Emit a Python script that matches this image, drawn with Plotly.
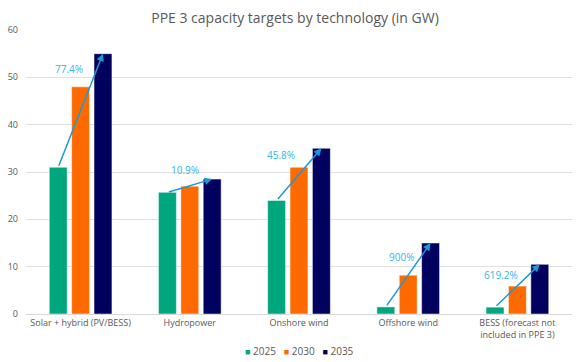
import plotly.graph_objects as go

categories = ["Solar + hybrid (PV/BESS)", "Hydropower", "Onshore wind", "Offshore wind",
              "BESS (forecast not<br>included in PPE 3)"]
years = ["2025", "2030", "2035"]
v2025 = [31, 25.7, 24, 1.5, 1.45]
v2030 = [48, 27, 31, 8.2, 5.9]
v2035 = [55, 28.5, 35, 15, 10.5]
y_ticks = [0, 10, 20, 30, 40, 50, 60]
growth_labels = ["77.4%", "10.9%", "45.8%", "900%", "619.2%"]
label_y = [51.8, 30.4, 33.6, 12, 8.2]
label_dx = [-0.11, -0.04, -0.165, -0.06, -0.15]

colors = ["#00A67E", "#FF6A00", "#00005F"]
series = [v2025, v2030, v2035]

fig = go.Figure()
for name, vals, c in zip(years, series, colors):
    fig.add_trace(go.Bar(x=categories, y=vals, name=name, marker_color=c,
                         marker_line=dict(color="rgba(255,255,255,0.6)", width=0.8)))

slot = 0.615 / 3
for i in range(len(categories)):
    fig.add_annotation(x=i + slot, y=v2035[i], ax=i - slot, ay=v2025[i],
                       xref="x", yref="y", axref="x", ayref="y",
                       showarrow=True, arrowhead=2, arrowsize=1, arrowwidth=1.5,
                       arrowcolor="#1A9AD6", text="")
    fig.add_annotation(x=i + label_dx[i], y=label_y[i], xref="x", yref="y",
                       text=growth_labels[i], showarrow=False,
                       font=dict(color="#33B5EE", size=10))

legend_text = "&nbsp;&nbsp;&nbsp;".join(
    f"<span style='color:{c};font-size:9px'>■</span> {y}" for y, c in zip(years, colors))
fig.add_annotation(x=0.5, y=-0.13, xref="paper", yref="paper", yanchor="middle",
                   text=legend_text, showarrow=False,
                   font=dict(size=10, color="#595959"))

# page body has an 8px margin: figure is sized/placed to compensate
fig.update_layout(
    width=574, height=354,
    margin=dict(l=18, r=10, t=22, b=48),
    paper_bgcolor="white", plot_bgcolor="white",
    font=dict(family="Open Sans", color="#595959", size=9),
    title=dict(text="PPE 3 capacity targets by technology (in GW)", x=0.5, xanchor="center",
               yref="container", y=0.985, yanchor="top", pad=dict(t=0),
               font=dict(size=14, color="#595959")),
    barmode="group", bargap=0.385, bargroupgap=0.2,
    showlegend=False,
    xaxis=dict(type="category", showline=True, linecolor="#d9d9d9", linewidth=1,
               tickfont=dict(size=9, color="#595959"), ticks="", automargin=False),
    yaxis=dict(range=[0, 60], tickmode="array", tickvals=y_ticks,
               showgrid=True, gridcolor="#e0e0e0", gridwidth=1,
               zeroline=False, tickfont=dict(size=9, color="#595959"), ticks="",
               ticklabelstandoff=7, automargin=False, ticklabeloverflow="allow"),
)

fig.write_html("out.html")
